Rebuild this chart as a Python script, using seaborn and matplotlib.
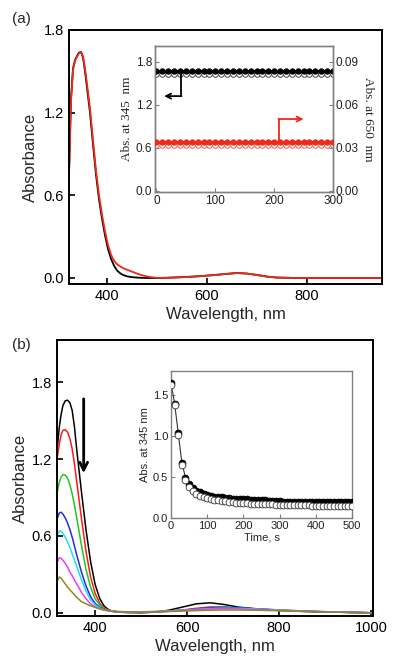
import matplotlib
matplotlib.use("Agg")
import matplotlib.pyplot as plt
import seaborn as sns

sns.set_theme(style="ticks")
plt.rcParams['font.family'] = ['Liberation Sans', 'DejaVu Sans']

# ---------------- Panel (a) data ----------------
wl_a = [324, 328, 332, 336, 340, 344, 348, 352, 356, 360, 366, 372, 378, 384, 390, 396,
        402, 408, 414, 420, 426, 432, 440, 450, 460, 470, 480, 490, 500, 520, 550, 580,
        610, 640, 660, 680, 700, 720, 740, 780, 850, 950]
black_a = [0.76, 1.30, 1.52, 1.58, 1.61, 1.635, 1.64, 1.60, 1.50, 1.38, 1.20, 0.97, 0.75,
           0.57, 0.43, 0.31, 0.21, 0.14, 0.09, 0.055, 0.035, 0.022, 0.012, 0.006, 0.003,
           0.001, 0.0, 0.0, 0.0, 0.002, 0.006, 0.012, 0.02, 0.03, 0.036, 0.032, 0.022,
           0.01, 0.003, 0.0, 0.0, 0.0]
red_a = [0.74, 1.28, 1.51, 1.575, 1.605, 1.63, 1.64, 1.61, 1.52, 1.41, 1.23, 1.00, 0.78,
         0.60, 0.46, 0.34, 0.24, 0.17, 0.125, 0.10, 0.085, 0.072, 0.06, 0.046, 0.032,
         0.02, 0.011, 0.005, 0.001, 0.001, 0.005, 0.011, 0.02, 0.03, 0.036, 0.032, 0.022,
         0.01, 0.003, 0.0, 0.0, 0.0]

# inset (a): absorbance vs time
t_a = [0, 10, 20, 30, 40, 50, 60, 70, 80, 90, 100, 110, 120, 130, 140, 150, 160, 170,
       180, 190, 200, 210, 220, 230, 240, 250, 260, 270, 280, 290, 300]
abs345_fill = [1.665, 1.665, 1.665, 1.665, 1.665, 1.665, 1.665, 1.665, 1.665, 1.665,
               1.665, 1.665, 1.665, 1.665, 1.665, 1.665, 1.665, 1.665, 1.665, 1.665,
               1.665, 1.665, 1.665, 1.665, 1.665, 1.665, 1.665, 1.665, 1.665, 1.665, 1.665]
abs345_open = [1.624, 1.624, 1.624, 1.624, 1.624, 1.624, 1.624, 1.624, 1.624, 1.624,
               1.624, 1.624, 1.624, 1.624, 1.624, 1.624, 1.624, 1.624, 1.624, 1.624,
               1.624, 1.624, 1.624, 1.624, 1.624, 1.624, 1.624, 1.624, 1.624, 1.624, 1.624]
abs650_fill = [0.0341, 0.0341, 0.0341, 0.0341, 0.0341, 0.0341, 0.0341, 0.0341, 0.0341,
               0.0341, 0.0341, 0.0341, 0.0341, 0.0341, 0.0341, 0.0341, 0.0341, 0.0341,
               0.0341, 0.0341, 0.0341, 0.0341, 0.0341, 0.0341, 0.0341, 0.0341, 0.0341,
               0.0341, 0.0341, 0.0341, 0.0341]
abs650_open = [0.0318, 0.0318, 0.0318, 0.0318, 0.0318, 0.0318, 0.0318, 0.0318, 0.0318,
               0.0318, 0.0318, 0.0318, 0.0318, 0.0318, 0.0318, 0.0318, 0.0318, 0.0318,
               0.0318, 0.0318, 0.0318, 0.0318, 0.0318, 0.0318, 0.0318, 0.0318, 0.0318,
               0.0318, 0.0318, 0.0318, 0.0318]

# ---------------- Panel (b) data ----------------
wl_b = [318, 322, 326, 330, 335, 340, 345, 350, 355, 360, 370, 380, 390, 400, 410, 420,
        430, 440, 450, 470, 500, 530, 560, 590, 620, 650, 680, 710, 750, 800, 850, 900,
        950, 1000]
spec_black = [1.30, 1.45, 1.55, 1.62, 1.655, 1.66, 1.64, 1.58, 1.45, 1.27, 0.95, 0.65,
              0.40, 0.22, 0.11, 0.05, 0.022, 0.01, 0.005, 0.002, 0.0, 0.005, 0.02, 0.045,
              0.07, 0.078, 0.065, 0.045, 0.03, 0.02, 0.012, 0.007, 0.003, 0.0]
spec_red = [1.22, 1.32, 1.39, 1.425, 1.43, 1.41, 1.36, 1.28, 1.16, 1.02, 0.74, 0.48,
            0.28, 0.15, 0.075, 0.036, 0.018, 0.01, 0.006, 0.004, 0.004, 0.006, 0.012,
            0.022, 0.035, 0.045, 0.045, 0.038, 0.028, 0.018, 0.011, 0.006, 0.003, 0.0]
spec_green = [0.95, 1.02, 1.06, 1.08, 1.075, 1.05, 1.0, 0.93, 0.84, 0.74, 0.53, 0.34,
              0.20, 0.11, 0.06, 0.032, 0.018, 0.011, 0.008, 0.006, 0.006, 0.008, 0.012,
              0.02, 0.03, 0.038, 0.04, 0.036, 0.028, 0.019, 0.012, 0.007, 0.003, 0.0]
spec_blue = [0.74, 0.78, 0.785, 0.77, 0.74, 0.70, 0.65, 0.59, 0.52, 0.45, 0.32, 0.21,
             0.125, 0.072, 0.043, 0.027, 0.017, 0.012, 0.009, 0.007, 0.007, 0.009, 0.013,
             0.02, 0.03, 0.04, 0.043, 0.04, 0.032, 0.022, 0.014, 0.008, 0.004, 0.0]
spec_cyan = [0.61, 0.64, 0.635, 0.62, 0.59, 0.55, 0.51, 0.46, 0.41, 0.36, 0.26, 0.17,
             0.10, 0.06, 0.037, 0.024, 0.016, 0.011, 0.009, 0.008, 0.008, 0.01, 0.014,
             0.02, 0.027, 0.033, 0.036, 0.035, 0.03, 0.022, 0.015, 0.009, 0.004, 0.0]
spec_magenta = [0.40, 0.43, 0.425, 0.41, 0.385, 0.355, 0.32, 0.29, 0.255, 0.225, 0.16,
                0.11, 0.07, 0.045, 0.03, 0.02, 0.014, 0.01, 0.008, 0.007, 0.007, 0.009,
                0.012, 0.018, 0.025, 0.03, 0.032, 0.03, 0.026, 0.019, 0.013, 0.008, 0.004,
                0.0]
spec_olive = [0.25, 0.28, 0.27, 0.25, 0.225, 0.20, 0.18, 0.16, 0.14, 0.12, 0.088, 0.07,
              0.055, 0.042, 0.032, 0.024, 0.017, 0.012, 0.009, 0.007, 0.007, 0.008, 0.01,
              0.013, 0.017, 0.02, 0.022, 0.022, 0.02, 0.016, 0.011, 0.007, 0.004, 0.0]
spec_colors = ['#000000', '#ff1a1a', '#22c722', '#2a2ae0', '#1fe0f0', '#f03cf0', '#8f8a1e']

# inset (b): absorbance at 345 nm vs time
t_b = [0, 10, 20, 30, 40, 50, 60, 70, 80, 90, 100, 110, 120, 130, 140, 150, 160, 170,
       180, 190, 200, 210, 220, 230, 240, 250, 260, 270, 280, 290, 300, 310, 320, 330,
       340, 350, 360, 370, 380, 390, 400, 410, 420, 430, 440, 450, 460, 470, 480, 490, 500]
kin_fill = [1.64, 1.39, 1.03, 0.67, 0.49, 0.41, 0.36, 0.33, 0.31, 0.29, 0.28, 0.27,
            0.26, 0.255, 0.25, 0.245, 0.24, 0.235, 0.232, 0.23, 0.228, 0.225, 0.222,
            0.22, 0.218, 0.215, 0.213, 0.21, 0.208, 0.205, 0.203, 0.2, 0.2, 0.198, 0.196,
            0.194, 0.192, 0.19, 0.19, 0.19, 0.19, 0.192, 0.194, 0.195, 0.195, 0.195, 0.195,
            0.195, 0.195, 0.195, 0.195]
kin_open = [1.62, 1.37, 1.01, 0.645, 0.46, 0.375, 0.325, 0.295, 0.27, 0.255, 0.24,
            0.23, 0.222, 0.215, 0.208, 0.202, 0.197, 0.192, 0.188, 0.185, 0.182, 0.179,
            0.176, 0.174, 0.172, 0.17, 0.168, 0.166, 0.164, 0.162, 0.16, 0.158, 0.157,
            0.156, 0.155, 0.154, 0.153, 0.152, 0.152, 0.151, 0.151, 0.15, 0.15, 0.15,
            0.15, 0.15, 0.15, 0.15, 0.15, 0.15, 0.15]

# ---------------- Figure ----------------
fig = plt.figure(figsize=(4.0, 6.64), dpi=100)
axa = fig.add_axes([0.1725, 0.572, 0.7825, 0.383])
axb = fig.add_axes([0.1425, 0.0723, 0.79, 0.4157])
ina = fig.add_axes([0.3875, 0.7108, 0.445, 0.2199])
inb = fig.add_axes([0.4275, 0.2199, 0.4525, 0.2218])

TICK = 10.5
LAB = 12

def style_main(ax):
    for s in ax.spines.values():
        s.set_linewidth(1.4)
        s.set_color('black')
        s.set_visible(True)
    ax.tick_params(direction='in', length=4, width=1.2, labelsize=TICK, colors='black')
    ax.set_facecolor('white')

# ---- panel (a) main ----
sns.lineplot(x=wl_a, y=black_a, ax=axa, color='black', lw=1.3, sort=False)
sns.lineplot(x=wl_a, y=red_a, ax=axa, color='#ee2a1a', lw=1.3, sort=False)
axa.set_xlim(324, 950)
axa.set_ylim(-0.045, 1.8)
axa.set_xticks([400, 600, 800])
axa.set_yticks([0.0, 0.6, 1.2, 1.8])
axa.set_yticklabels(['0.0', '0.6', '1.2', '1.8'])
axa.set_xlabel('Wavelength, nm', fontsize=LAB, labelpad=3)
axa.set_ylabel('Absorbance', fontsize=LAB, labelpad=4)
style_main(axa)
fig.text(0.03, 0.972, '(a)', fontsize=11, ha='left', va='center')

# ---- inset (a) ----
inr = ina.twinx()
ina.set_xlim(-2.5, 300)
ina.set_ylim(-0.02, 2.02)
inr.set_ylim(-0.001, 0.101)
sns.lineplot(x=t_a, y=abs345_fill, ax=ina, color='black', lw=2.2)
sns.scatterplot(x=t_a, y=abs345_open, ax=ina, marker='o', s=16, facecolor='white',
                edgecolor='#444444', linewidth=0.7, zorder=2)
sns.scatterplot(x=t_a, y=abs345_fill, ax=ina, marker='o', s=16, color='black',
                edgecolor='black', linewidth=0.5, zorder=3)
sns.lineplot(x=t_a, y=abs650_fill, ax=inr, color='#ee2a1a', lw=2.2)
sns.scatterplot(x=t_a, y=abs650_open, ax=inr, marker='o', s=16, facecolor='white',
                edgecolor='#ee5a4a', linewidth=0.7, zorder=2)
sns.scatterplot(x=t_a, y=abs650_fill, ax=inr, marker='o', s=16, color='#ee2a1a',
                edgecolor='#ee2a1a', linewidth=0.5, zorder=3)
# L-shaped arrows
ina.plot([42, 42], [1.66, 1.32], color='black', lw=1.3)
ina.annotate('', xy=(13, 1.32), xytext=(42.6, 1.32),
             arrowprops=dict(arrowstyle='->', color='black', lw=1.3, mutation_scale=9,
                             shrinkA=0, shrinkB=0))
ina.plot([208, 208], [0.68, 1.0], color='#ee2a1a', lw=1.3)
ina.annotate('', xy=(250, 1.0), xytext=(207.4, 1.0),
             arrowprops=dict(arrowstyle='->', color='#ee2a1a', lw=1.3, mutation_scale=9,
                             shrinkA=0, shrinkB=0))
ina.set_xticks([0, 100, 200, 300])
ina.set_yticks([0.0, 0.6, 1.2, 1.8])
ina.set_yticklabels(['0.0', '0.6', '1.2', '1.8'])
inr.set_yticks([0.0, 0.03, 0.06, 0.09])
inr.set_yticklabels(['0.00', '0.03', '0.06', '0.09'])
for ax in (ina, inr):
    for s in ax.spines.values():
        s.set_color('#808080')
        s.set_linewidth(1.0)
        s.set_visible(True)
    ax.tick_params(direction='in', length=3, width=0.8, labelsize=8.5, color='#808080',
                   labelcolor='#222222', pad=2)
ina.set_ylabel('Abs. at 345  nm', fontsize=9.5, family='Liberation Serif', labelpad=2)
inr.set_ylabel('Abs. at 650  nm', fontsize=9.5, family='Liberation Serif', rotation=270,
               labelpad=11)
ina.set_xlabel('')

# ---- panel (b) main ----
series_b = [spec_black, spec_red, spec_green, spec_blue, spec_cyan, spec_magenta, spec_olive]
for vals, col in zip(series_b, spec_colors):
    sns.lineplot(x=wl_b, y=vals, ax=axb, color=col, lw=1.1, sort=False)
axb.annotate('', xy=(375, 1.09), xytext=(375, 1.67),
             arrowprops=dict(arrowstyle='->', color='black', lw=2.0, mutation_scale=14,
                             shrinkA=0, shrinkB=0))
axb.set_xlim(317, 1004)
axb.set_ylim(-0.025, 2.13)
axb.set_xticks([400, 600, 800, 1000])
axb.set_yticks([0.0, 0.6, 1.2, 1.8])
axb.set_yticklabels(['0.0', '0.6', '1.2', '1.8'])
axb.set_xlabel('Wavelength, nm', fontsize=LAB, labelpad=3)
axb.set_ylabel('Absorbance', fontsize=LAB, labelpad=3)
style_main(axb)
fig.text(0.03, 0.481, '(b)', fontsize=11, ha='left', va='center')

# ---- inset (b) ----
sns.lineplot(x=t_b, y=kin_fill, ax=inb, color='#333333', lw=0.8)
sns.scatterplot(x=t_b, y=kin_fill, ax=inb, marker='o', s=24, color='black',
                edgecolor='black', linewidth=0.6, zorder=3)
sns.scatterplot(x=t_b, y=kin_open, ax=inb, marker='o', s=24, facecolor='white',
                edgecolor='#333333', linewidth=0.6, zorder=4)
inb.set_xlim(0, 500)
inb.set_ylim(0, 1.79)
inb.set_xticks([0, 100, 200, 300, 400, 500])
inb.set_yticks([0.0, 0.5, 1.0, 1.5])
inb.set_yticklabels(['0.0', '0.5', '1.0', '1.5'])
for s in inb.spines.values():
    s.set_color('#808080')
    s.set_linewidth(1.0)
    s.set_visible(True)
inb.tick_params(direction='in', length=3, width=0.8, labelsize=8, color='#808080',
                labelcolor='#222222', pad=2)
inb.set_xlabel('Time, s', fontsize=8, labelpad=1)
inb.set_ylabel('Abs. at 345 nm', fontsize=8, labelpad=2)

fig.savefig('out.png', dpi=100, facecolor='white')
